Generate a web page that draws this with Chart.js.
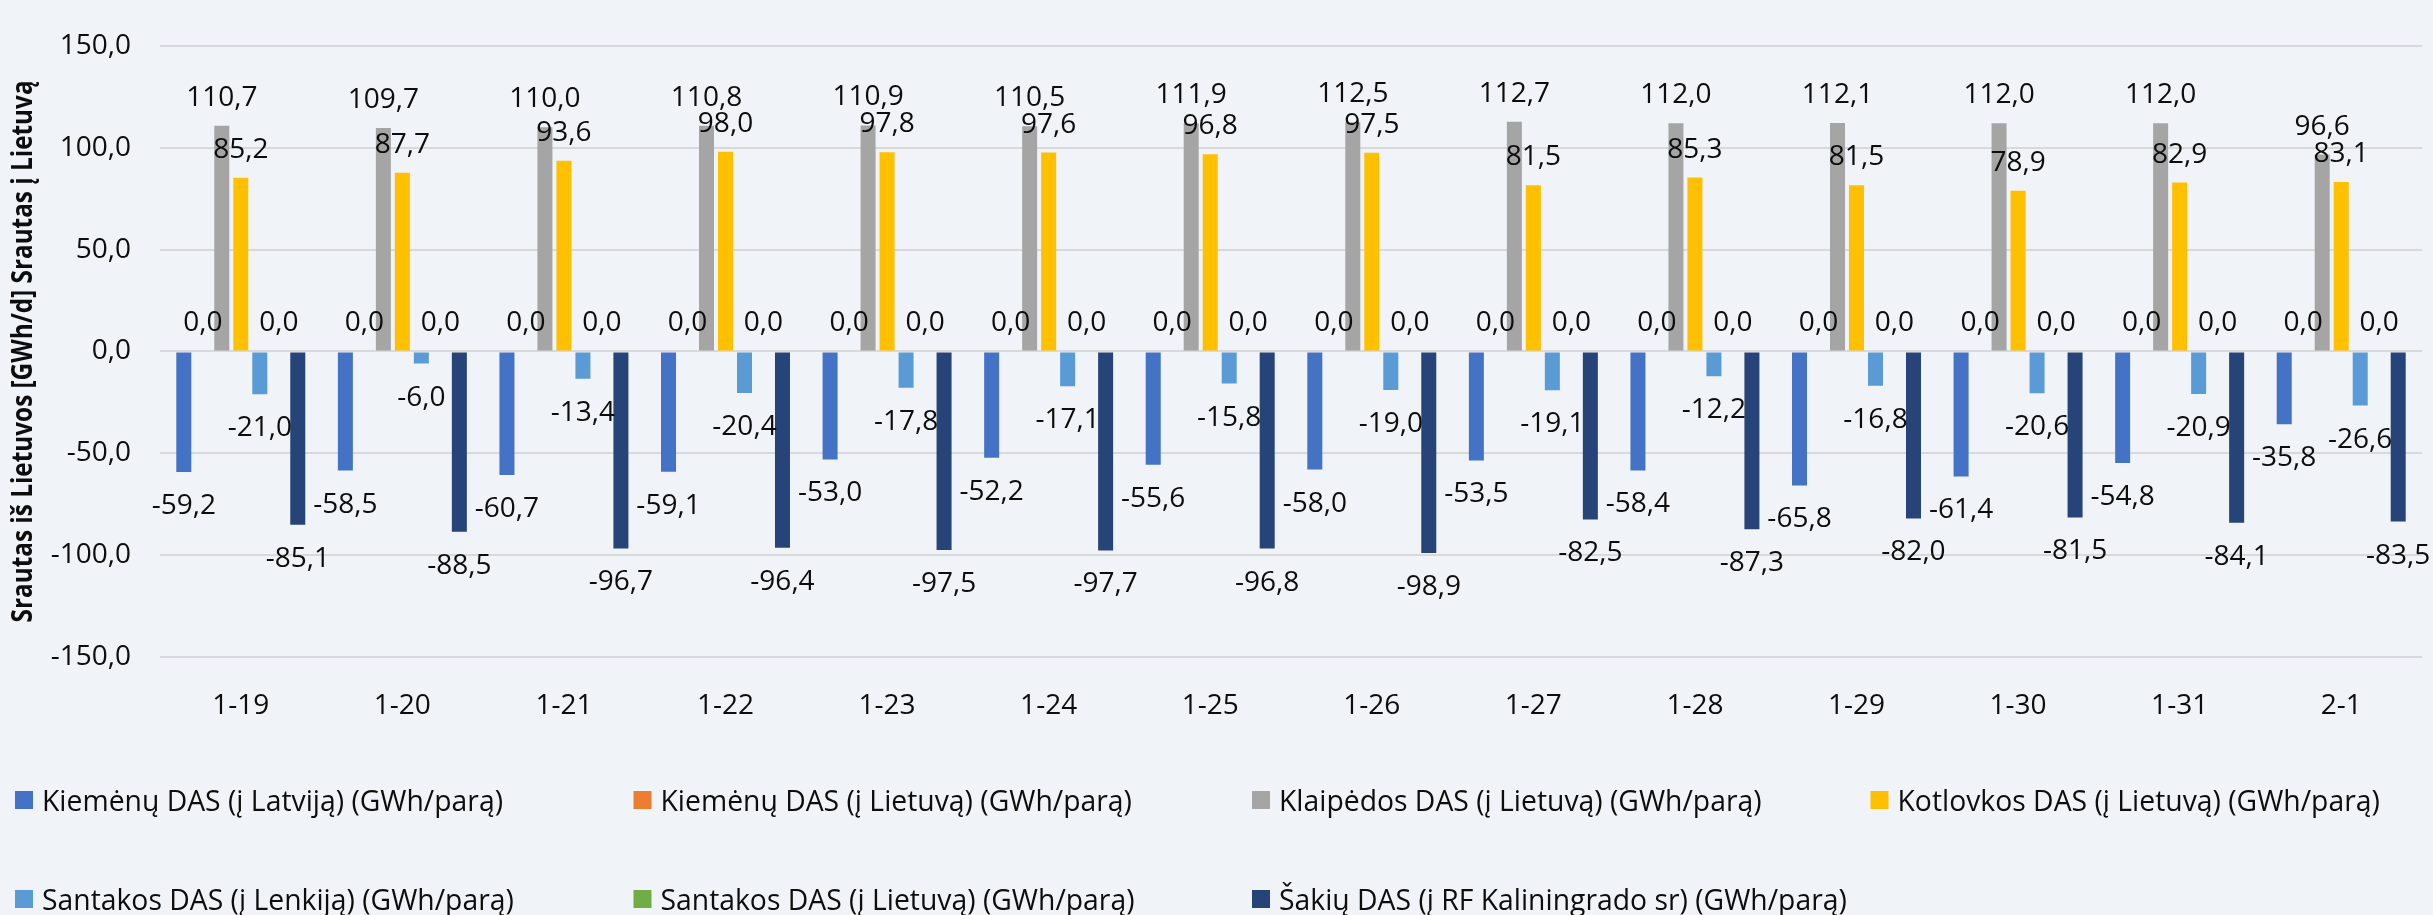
<!DOCTYPE html>
<html lang="lt">
<head>
<meta charset="utf-8">
<title>Dujų srautai per DAS</title>
<script src="https://cdn.jsdelivr.net/npm/chart.js@4.4.1/dist/chart.umd.min.js"></script>
<style>
  html, body { margin: 0; padding: 0; background: #f0f3f7; }
  #wrap { width: 2433px; height: 915px; }
</style>
</head>
<body>
<div id="wrap"><canvas id="flowChart" width="2433" height="915"></canvas></div>
<script>
// dienos (mėn-diena)
const days = ['1-19', '1-20', '1-21', '1-22', '1-23', '1-24', '1-25', '1-26', '1-27', '1-28', '1-29', '1-30', '1-31', '2-1'];

// GWh/parą, neigiama = srautas iš Lietuvos
const kiemenaiLv = [-59.2, -58.5, -60.7, -59.1, -53.0, -52.2, -55.6, -58.0, -53.5, -58.4, -65.8, -61.4, -54.8, -35.8];
const kiemenaiLt = [0, 0, 0, 0, 0, 0, 0, 0, 0, 0, 0, 0, 0, 0];
const klaipeda = [110.7, 109.7, 110.0, 110.8, 110.9, 110.5, 111.9, 112.5, 112.7, 112.0, 112.1, 112.0, 112.0, 96.6];
const kotlovka = [85.2, 87.7, 93.6, 98.0, 97.8, 97.6, 96.8, 97.5, 81.5, 85.3, 81.5, 78.9, 82.9, 83.1];
const santakaPl = [-21.0, -6.0, -13.4, -20.4, -17.8, -17.1, -15.8, -19.0, -19.1, -12.2, -16.8, -20.6, -20.9, -26.6];
const santakaLt = [0, 0, 0, 0, 0, 0, 0, 0, 0, 0, 0, 0, 0, 0];
const sakiai = [-85.1, -88.5, -96.7, -96.4, -97.5, -97.7, -96.8, -98.9, -82.5, -87.3, -82.0, -81.5, -84.1, -83.5];

const seriesNames = [
  'Kiemėnų DAS (į Latviją) (GWh/parą)',
  'Kiemėnų DAS (į Lietuvą) (GWh/parą)',
  'Klaipėdos DAS (į Lietuvą) (GWh/parą)',
  'Kotlovkos DAS (į Lietuvą) (GWh/parą)',
  'Santakos DAS (į Lenkiją) (GWh/parą)',
  'Santakos DAS (į Lietuvą) (GWh/parą)',
  'Šakių DAS (į RF Kaliningrado sr) (GWh/parą)'
];
const seriesColors = ['#4472c4', '#ed7d31', '#a5a5a5', '#ffc000', '#5b9bd5', '#70ad47', '#264478'];
const yTicks = [-150, -100, -50, 0, 50, 100, 150];
const yTitle = 'Srautas iš Lietuvos [GWh/d] Srautas į Lietuvą';

const seriesValues = [kiemenaiLv, kiemenaiLt, klaipeda, kotlovka, santakaPl, santakaLt, sakiai];
const FONT = '"Open Sans", "Noto Sans", sans-serif';
const fmt = v => v.toFixed(1).replace('.', ',');

const bgPlugin = {
  id: 'bg',
  beforeDraw(chart) {
    const c = chart.ctx;
    c.save(); c.fillStyle = '#f0f3f7'; c.fillRect(0, 0, chart.width, chart.height); c.restore();
  }
};

// reikšmės virš / po stulpeliais
const barLabels = {
  id: 'barLabels',
  afterDatasetsDraw(chart) {
    const c = chart.ctx;
    c.save();
    c.font = '28px ' + FONT; c.fillStyle = '#0d0d0d'; c.textAlign = 'center'; c.textBaseline = 'alphabetic';
    chart.data.datasets.forEach((ds, i) => {
      chart.getDatasetMeta(i).data.forEach((bar, j) => {
        const v = ds.data[j];
        if (v >= 0) c.fillText(fmt(v), bar.x, bar.y - 20);
        else c.fillText(fmt(v), bar.x, bar.y + 42);
      });
    });
    c.restore();
  }
};

// ašies pavadinimas ir legenda tinkleliu (kaip Excel)
const extras = {
  id: 'extras',
  afterDraw(chart) {
    const c = chart.ctx, a = chart.chartArea;
    c.save();
    c.font = 'bold 29px ' + FONT; c.fillStyle = '#0d0d0d'; c.textAlign = 'center'; c.textBaseline = 'alphabetic';
    c.translate(32, (a.top + a.bottom) / 2); c.rotate(-Math.PI / 2);
    const tw = c.measureText(yTitle).width;
    c.scale(542 / tw, 1);
    c.fillText(yTitle, 0, 0);
    c.restore();

    c.save();
    c.font = '29px ' + FONT; c.textBaseline = 'alphabetic'; c.textAlign = 'left';
    const k = 461 / c.measureText(seriesNames[0]).width;
    seriesNames.forEach((name, i) => {
      const x = 15 + (i % 4) * 618.5, cy = i < 4 ? 800 : 899;
      c.fillStyle = seriesColors[i]; c.fillRect(x, cy - 9, 18, 18);
      c.save(); c.translate(x + 27, cy + 11); c.scale(k, 1);
      c.fillStyle = '#0d0d0d'; c.fillText(name, 0, 0);
      c.restore();
    });
    c.restore();
  }
};

new Chart(document.getElementById('flowChart'), {
  type: 'bar',
  data: {
    labels: days,
    datasets: seriesValues.map((d, i) => ({
      label: seriesNames[i], data: d, backgroundColor: seriesColors[i], borderWidth: 0,
      categoryPercentage: 0.823, barPercentage: 0.79
    }))
  },
  options: {
    responsive: false, animation: false, devicePixelRatio: 1,
    layout: { padding: { left: 0, right: 11, top: 24, bottom: 0 } },
    plugins: { legend: { display: false }, tooltip: { enabled: false } },
    scales: {
      x: {
        grid: { display: false }, border: { display: false },
        ticks: { color: '#0d0d0d', font: { family: FONT, size: 28 }, padding: 24, maxRotation: 0 },
        afterFit: s => { s.height = 258; }
      },
      y: {
        min: -150, max: 150,
        afterBuildTicks: s => { s.ticks = yTicks.map(v => ({ value: v })); },
        grid: { color: '#d9d9d9', lineWidth: 2, drawTicks: false }, border: { display: false },
        ticks: { color: '#0d0d0d', font: { family: FONT, size: 28 }, padding: 29, callback: v => fmt(v) },
        afterFit: s => { s.width = 160; }
      }
    }
  },
  plugins: [bgPlugin, barLabels, extras]
});
</script>
</body>
</html>
